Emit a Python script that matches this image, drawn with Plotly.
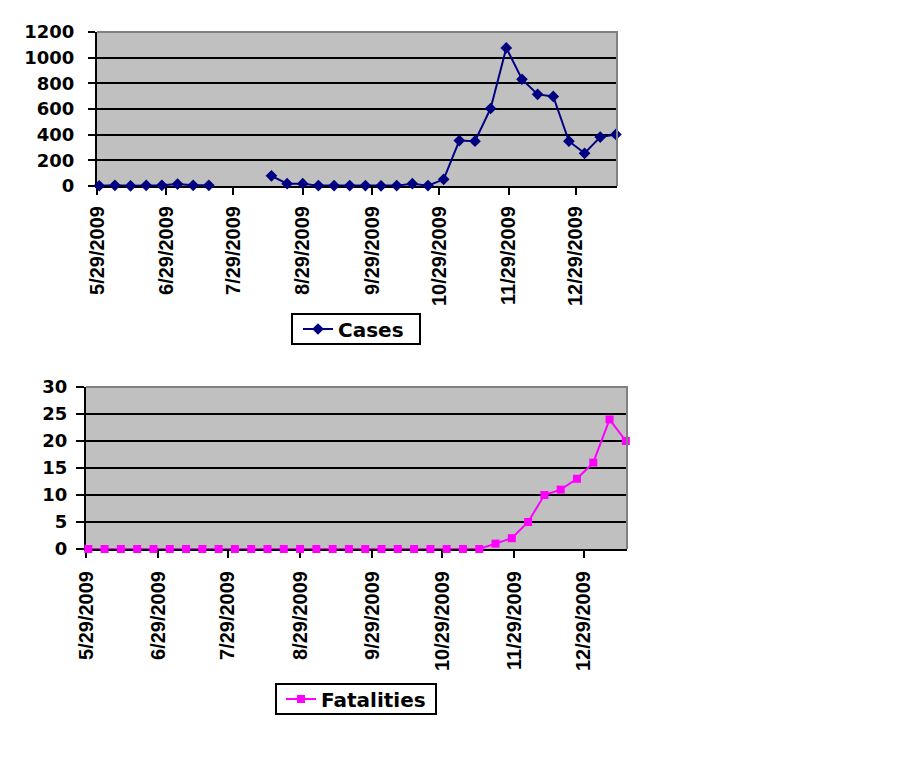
import plotly.graph_objects as go

# weekly report dates (Saturdays)
week_dates = [
    "2009-05-30", "2009-06-06", "2009-06-13", "2009-06-20", "2009-06-27",
    "2009-07-04", "2009-07-11", "2009-07-18", "2009-07-25", "2009-08-01",
    "2009-08-08", "2009-08-15", "2009-08-22", "2009-08-29", "2009-09-05",
    "2009-09-12", "2009-09-19", "2009-09-26", "2009-10-03", "2009-10-10",
    "2009-10-17", "2009-10-24", "2009-10-31", "2009-11-07", "2009-11-14",
    "2009-11-21", "2009-11-28", "2009-12-05", "2009-12-12", "2009-12-19",
    "2009-12-26", "2010-01-02", "2010-01-09", "2010-01-16",
]

# None = no report that week (gap in the line)
cases = [
    2, 5, 1, 5, 5, 15, 5, 5, None, None,
    None, 79, 18, 18, 3, 3, 3, 3, 1, 3,
    18, 3, 52, 354, 349, 604, 1076, 832, 714, 698,
    349, 255, 381, 402,
]

fatalities = [
    0, 0, 0, 0, 0, 0, 0, 0, 0, 0,
    0, 0, 0, 0, 0, 0, 0, 0, 0, 0,
    0, 0, 0, 0, 0, 1, 2, 5, 10, 11,
    13, 16, 24, 20,
]

tick_dates = [
    "2009-05-29", "2009-06-29", "2009-07-29", "2009-08-29",
    "2009-09-29", "2009-10-29", "2009-11-29", "2009-12-29",
]
tick_labels = [
    "5/29/2009", "6/29/2009", "7/29/2009", "8/29/2009",
    "9/29/2009", "10/29/2009", "11/29/2009", "12/29/2009",
]

cases_ticks = [0, 200, 400, 600, 800, 1000, 1200]
fatal_ticks = [0, 5, 10, 15, 20, 25, 30]

# page body has an 8px margin, so the figure is a bit smaller than the window
OFF = 8
W, H = 902 - 2 * OFF, 777 - 2 * OFF
FONT = "DejaVu Sans"
XFONT = "Liberation Sans"
x_range = ["2009-05-29", "2010-01-16 12:00"]


def px_x(p):
    return (p - OFF) / W


def px_y(p):
    return 1 - (p - OFF) / H


fig = go.Figure()

fig.add_trace(go.Scatter(
    x=week_dates, y=cases, name="Cases",
    mode="lines+markers", connectgaps=False, cliponaxis=False,
    line=dict(color="#000080", width=2),
    marker=dict(symbol="diamond", size=9, color="#000080"),
    xaxis="x", yaxis="y", legend="legend",
))
fig.add_trace(go.Scatter(
    x=week_dates, y=fatalities, name="Fatalities",
    mode="lines+markers", cliponaxis=False,
    line=dict(color="#FF00FF", width=2),
    marker=dict(symbol="square", size=8, color="#FF00FF"),
    xaxis="x2", yaxis="y2", legend="legend2",
))

xcommon = dict(
    type="date", range=x_range, tickmode="array",
    tickvals=tick_dates, ticktext=tick_labels, tickangle=-90,
    showgrid=False, zeroline=False, automargin=False,
    showline=True, linecolor="black", linewidth=2,
    ticks="outside", ticklen=7, tickwidth=2, tickcolor="black",
    tickfont=dict(family=XFONT, size=20, color="black", weight="bold"),
    layer="below traces", fixedrange=True,
)
ycommon = dict(
    tickmode="array", showgrid=True, gridcolor="black", gridwidth=2,
    zeroline=False, showline=True, linecolor="black", linewidth=2,
    automargin=False,
    ticks="outside", ticklen=7, tickwidth=2, tickcolor="black",
    tickfont=dict(family=FONT, size=18, color="black", weight="bold"),
    layer="below traces", fixedrange=True,
)

legend_font = dict(family=FONT, size=20, color="black", weight="bold")

fig.update_layout(
    width=W, height=H,
    margin=dict(l=0, r=0, t=0, b=0, autoexpand=False),
    paper_bgcolor="white", plot_bgcolor="#C0C0C0",
    xaxis=dict(xcommon, domain=[px_x(97), px_x(617)], anchor="y",
               ticklabelstandoff=3),
    yaxis=dict(ycommon, domain=[px_y(186), px_y(32)], anchor="x",
               range=[0, 1200], tickvals=cases_ticks,
               ticklabelstandoff=10),
    xaxis2=dict(xcommon, domain=[px_x(86), px_x(627)], anchor="y2",
                ticklabelstandoff=5),
    yaxis2=dict(ycommon, domain=[px_y(549), px_y(387)], anchor="x2",
                range=[0, 30], tickvals=fatal_ticks, ticklen=8,
                ticklabelstandoff=5),
    legend=dict(
        x=px_x(298), y=px_y(329), xanchor="left", yanchor="middle",
        bgcolor="rgba(0,0,0,0)", borderwidth=0, font=legend_font,
    ),
    legend2=dict(
        x=px_x(281), y=px_y(699), xanchor="left", yanchor="middle",
        bgcolor="rgba(0,0,0,0)", borderwidth=0, font=legend_font,
    ),
    showlegend=True,
)

# legend frames
for x0, y0, x1, y1 in [(292, 314, 420, 344), (276, 684, 436, 714)]:
    fig.add_shape(type="rect", xref="paper", yref="paper",
                  x0=px_x(x0), x1=px_x(x1), y0=px_y(y1), y1=px_y(y0),
                  line=dict(color="black", width=2), fillcolor="white",
                  layer="below")

# gray plot-area border on the top and right sides (Excel style)
for xr, yr in [("x domain", "y domain"), ("x2 domain", "y2 domain")]:
    fig.add_shape(type="path", path="M 0,1 L 1,1 L 1,0",
                  xref=xr, yref=yr, layer="above",
                  line=dict(color="#808080", width=2))

fig.write_html("out.html")
